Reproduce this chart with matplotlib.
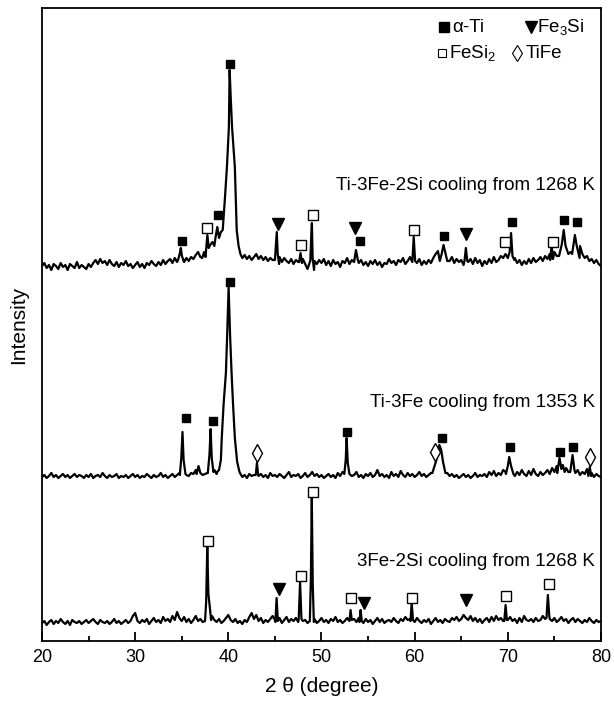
import numpy as np
import matplotlib
matplotlib.use("Agg")
import matplotlib.pyplot as plt

plt.rcParams['font.family'] = ['Liberation Sans', 'DejaVu Sans']
plt.rcParams['mathtext.fontset'] = 'custom'
plt.rcParams['mathtext.rm'] = 'Liberation Sans'
plt.rcParams['mathtext.default'] = 'regular'

# scan grid, 20-80 deg in 0.25 deg steps (241 points)
scan = 20 + 0.25 * np.arange(241)

# background counts (arb. units above each trace's baseline), one row per 5 deg
bg_a = [0, 3, -2, 1, -4, 2, 0, -3, 3, -1, 1, -4, 2, 0, -2, 4, -2, 1, -1, -3,
        2, -1, 3, 6, 2, 7, 3, 5, 1, 6, 2, 0, 4, -1, 3, 1, 5, 0, 2, -2,
        1, 4, -1, 2, -2, 3, 1, 5, 2, 0, 4, 1, 6, 2, 5, 7, 3, 8, 4, 9,
        6, 4, 8, 5, 9, 7, 11, 14, 9, 16, 12, 20, 18, 24, 22, 30, 28, 35, 40, 60,
        80, 50, 30, 14, 10, 12, 8, 11, 7, 10, 6, 9, 12, 7, 10, 6, 9, 5, 8, 6,
        6, 8, 9, 4, 8, 5, 3, 7, 2, 6, 4, 9, 7, 2, -3, 4, 1, 5, 2, 6,
        3, 7, 1, 5, 0, 6, 2, 4, -1, 5, 3, 8, 2, 6, 5, 5, 3, 6, 1, 4,
        0, 5, 2, 6, 1, 4, -1, 3, 2, 7, 3, 5, 1, 6, 4, 8, 2, 5, 9, 6,
        5, 3, 7, 1, 5, 2, 6, 3, 8, 12, 15, 8, 4, 7, 2, 5, 9, 3, 7, 4,
        6, 1, 5, 4, 7, 2, 8, 3, 6, 0, 5, 2, 7, 3, 9, 4, 6, 10, 8, 12,
        14, 9, 5, 8, 3, 6, 1, 5, 2, 7, 3, 8, 4, 6, 9, 5, 10, 7, 12, 9,
        14, 10, 16, 12, 20, 22, 24, 14, 12, 18, 20, 20, 12, 8, 10, 5, 7, 3, 6, 2,
        0]
bg_b = [1, 3, 0, 2, 5, 1, 3, 0, 2, 4, 1, 3, 0, 2, 4, 1, 3, 2, 0, 3,
        1, 4, 0, 2, 3, 1, 5, 2, 0, 3, 1, 2, 4, 0, 2, 1, 3, 0, 2, 4,
        1, 3, 0, 2, 1, 4, 2, 0, 3, 1, 2, 5, 1, 3, 0, 2, 4, 1, 3, 5,
        6, 8, 3, 2, 5, 4, 8, 12, 6, 3, 4, 5, 9, 7, 8, 4, 3, 6, 9, 12,
        10, 8, 6, 4, 2, 5, 1, 3, 0, 4, 2, 3, 4, 2, 4, 1, 3, 0, 5, 2,
        3, 1, 4, 2, 0, 3, 6, 1, 3, 2, 4, 0, 2, 5, 1, 3, 6, 2, 4, 1,
        3, 0, 2, 4, 1, 3, 0, 5, 2, 6, 5, 8, 4, 2, 3, 6, 1, 3, 0, 4,
        2, 5, 1, 3, 8, 2, 4, 1, 3, 0, 6, 2, 4, 1, 7, 3, 1, 5, 2, 4,
        1, 3, 6, 2, 4, 1, 3, 5, 8, 7, 9, 6, 6, 3, 5, 2, 4, 1, 3, 0,
        2, 4, 1, 3, 0, 2, 5, 1, 3, 2, 4, 1, 6, 3, 7, 2, 5, 3, 8, 6,
        7, 7, 4, 2, 6, 3, 8, 4, 2, 7, 3, 9, 4, 2, 6, 3, 5, 8, 4, 10,
        6, 12, 9, 8, 5, 10, 6, 9, 10, 5, 8, 3, 6, 4, 9, 3, 5, 1, 4, 2,
        1]
bg_c = [1, 3, -1, 2, 4, 0, 3, 1, 5, 2, 0, 3, -1, 4, 2, 1, 3, 0, 2, 4,
        1, 3, 5, 2, 0, 4, 2, 1, 3, 0, 2, 5, 1, 3, 0, 2, 4, 1, 3, 8,
        11, 3, 1, 4, 2, 5, 0, 3, 6, 2, 4, 1, 7, 3, 5, 2, 8, 4, 12, 6,
        3, 7, 2, 5, 1, 4, 8, 3, 5, 2, 4, 6, 5, 8, 4, 2, 5, 1, 3, 6,
        9, 4, 2, 5, 1, 3, 0, 4, 2, 7, 11, 5, 9, 3, 6, 1, 4, 2, 5, 8,
        4, 3, 6, 1, 4, 7, 2, 5, 3, 6, 2, 5, 3, 4, 1, 6, 2, 5, 1, 3,
        6, 2, 4, 1, 5, 3, 7, 2, 4, 1, 3, 6, 5, 3, 5, 2, 6, 4, 1, 5,
        2, 4, 0, 3, 6, 2, 5, 1, 3, 4, 2, 6, 3, 1, 5, 3, 7, 4, 5, 2,
        2, 6, 3, 1, 4, 2, 5, 0, 3, 6, 2, 4, 1, 5, 3, 2, 6, 4, 7, 3,
        5, 9, 6, 4, 8, 3, 6, 2, 5, 1, 4, 6, 2, 7, 3, 8, 4, 6, 3, 2,
        4, 7, 3, 5, 1, 6, 2, 8, 4, 3, 5, 2, 6, 3, 4, 8, 5, 7, 5, 3,
        6, 2, 4, 7, 3, 5, 1, 4, 6, 2, 5, 3, 1, 4, 2, 6, 3, 1, 4, 2,
        3]

# diffraction peaks, (2theta, counts)
pk_a = [
    [(34.6, 6), (34.78, 12), (34.9, 18), (35.02, 10), (35.2, 5)],
    [(37.2, 8), (37.4, 14), (37.55, 9), (37.75, 31), (37.9, 18), (38.05, 21),
     (38.3, 24), (38.5, 20), (38.65, 30), (38.82, 39), (39.0, 28), (39.2, 34),
     (39.4, 36), (39.65, 70), (39.85, 99), (40.06, 139), (40.14, 196),
     (40.25, 170), (40.4, 139), (40.7, 99), (40.9, 36), (41.1, 20), (41.3, 12)],
    [(45.0, 6), (45.1, 20), (45.2, 34), (45.3, 12), (45.45, 2)],
    [(47.6, 4), (47.75, 13), (47.9, 3)],
    [(48.8, 5), (48.9, 30), (48.97, 43), (49.05, 8), (49.2, -4)],
    [(53.5, 4), (53.7, 16), (53.9, 6)],
    [(59.75, 4), (59.9, 29), (60.05, 5)],
    [(62.7, 5), (62.9, 12), (63.1, 21), (63.3, 13), (63.5, 5)],
    [(65.35, 5), (65.5, 18), (65.65, 5)],
    [(70.0, 8), (70.2, 14), (70.35, 33), (70.5, 10), (70.7, 6)],
    [(74.55, 6), (74.7, 21), (74.85, 7)],
    [(75.5, 10), (75.8, 22), (76.0, 36), (76.2, 20), (76.5, 12)],
    [(76.9, 12), (77.2, 31), (77.4, 20), (77.7, 8)],
]
pk_b = [
    [(34.8, 3), (34.95, 20), (35.08, 46), (35.2, 18), (35.4, 4)],
    [(36.6, 4), (36.8, 12), (37.0, 5)],
    [(37.8, 5), (37.98, 24), (38.1, 49), (38.22, 20), (38.4, 6)],
    [(38.8, 6), (39.0, 8), (39.2, 18), (39.3, 41), (39.5, 75), (39.74, 105),
     (39.9, 150), (40.03, 191), (40.2, 140), (40.35, 105), (40.5, 75),
     (40.7, 40), (40.95, 16), (41.2, 6)],
    [(42.95, 3), (43.07, 15), (43.2, 3)],
    [(52.45, 4), (52.6, 18), (52.7, 40), (52.82, 15), (53.0, 4)],
    [(61.9, 5), (62.2, 14), (62.45, 22), (62.65, 33), (62.85, 28), (63.05, 16), (63.3, 5)],
    [(69.8, 4), (70.0, 12), (70.15, 21), (70.35, 12), (70.6, 4)],
    [(75.3, 5), (75.55, 20), (75.75, 9), (75.9, 13), (76.1, 6)],
    [(76.7, 6), (76.95, 23), (77.15, 8)],
    [(78.65, 2), (78.8, 11), (78.95, 2)],
]
pk_c = [
    [(37.5, 3), (37.62, 22), (37.74, 77), (37.86, 30), (38.0, 18), (38.15, 4)],
    [(45.05, 2), (45.18, 26), (45.32, 3)],
    [(47.55, 4), (47.7, 42), (47.85, 5)],
    [(48.75, 3), (48.86, 45), (48.96, 127), (49.06, 40), (49.18, 2)],
    [(53.0, 3), (53.12, 14), (53.25, 4)],
    [(54.08, 2), (54.2, 14), (54.32, 3)],
    [(59.55, 3), (59.68, 21), (59.82, 4)],
    [(69.62, 3), (69.76, 19), (69.9, 4)],
    [(74.15, 6), (74.3, 29), (74.45, 8)],
]

# vertical offsets of the stacked patterns
offsets = [375, 163, 17]
labels = ['Ti-3Fe-2Si cooling from 1268 K', 'Ti-3Fe cooling from 1353 K',
          '3Fe-2Si cooling from 1268 K']
label_y = [456, 239, 79]

# phase markers (2theta, height on the plot)
ti_x = [35.05, 38.85, 40.15, 54.1, 63.1, 70.4, 76.0, 77.4,
        35.5, 38.35, 40.15, 52.76, 62.95, 70.2, 75.6, 77.0]
ti_y = [400, 426, 577, 400, 405, 419, 421, 419,
        223, 220, 359, 209, 203, 194, 189, 194]
fe3si_x = [45.3, 53.55, 65.5, 45.45, 54.55, 65.55]
fe3si_y = [417, 413, 407, 52, 38, 41]
fesi2_x = [37.74, 47.76, 49.1, 59.9, 69.7, 74.85,
           37.85, 47.76, 49.04, 53.2, 59.67, 69.85, 74.43]
fesi2_y = [413, 396, 426, 411, 399, 399,
           100, 65, 149, 43, 43, 45, 57]
tife_x = [43.07, 62.17, 78.8]
tife_y = [188, 189, 184]


def build(bg, peaks):
    bg = np.array(bg, float)
    keep = np.ones(len(scan), bool)
    px, py = [], []
    for seg in peaks:
        keep &= ~((scan >= seg[0][0]) & (scan <= seg[-1][0]))
        px += [p[0] for p in seg]
        py += [p[1] for p in seg]
    x = np.concatenate([scan[keep], px])
    y = np.concatenate([bg[keep], py])
    o = np.argsort(x)
    return x[o], y[o]


fig = plt.figure(figsize=(6.14, 7.04), dpi=100)
ax = fig.add_axes([0.0684, 0.0895, 0.9104, 0.8991])

for bg, pk, off, lab, ly in zip([bg_a, bg_b, bg_c], [pk_a, pk_b, pk_c],
                                offsets, labels, label_y):
    x, y = build(bg, pk)
    ax.plot(x, y + off, color='black', lw=1.6)
    ax.text(79.33, ly, lab, ha='right', va='center', fontsize=13.5)

ax.plot(ti_x, ti_y, 's', color='black', ms=6.2, ls='none')
ax.plot(fesi2_x, fesi2_y, 's', mfc='white', mec='black', mew=1, ms=6.5, ls='none')
ax.plot(fe3si_x, fe3si_y, 'v', color='black', ms=9, ls='none')
ax.plot(tife_x, tife_y, 'd', mfc='white', mec='black', mew=1, ms=9, ls='none')

# phase key
ax.plot([63.13], [614], 's', color='black', ms=7)
ax.text(63.99, 614, 'α-Ti', ha='left', va='center', fontsize=13.5)
ax.plot([72.47], [614], 'v', color='black', ms=8.5)
ax.text(73.1, 614, 'Fe$_3$Si', ha='left', va='center', fontsize=13.5)
ax.plot([62.92], [588], 's', mfc='white', mec='black', mew=0.8, ms=5.5)
ax.text(63.67, 588, 'FeSi$_2$', ha='left', va='center', fontsize=13.5)
ax.plot([70.97], [588], 'd', mfc='white', mec='black', mew=0.8, ms=8)
ax.text(71.93, 588, 'TiFe', ha='left', va='center', fontsize=13.5)

ax.set_xlim(20, 80)
ax.set_ylim(0, 633)
ax.set_xticks(np.arange(20, 81, 10))
ax.set_xticks(np.arange(25, 80, 10), minor=True)
ax.set_yticks([])
ax.tick_params(axis='x', which='both', direction='in', top=False,
               labelsize=13, width=1.3, pad=6)
ax.tick_params(axis='x', which='major', length=6.5)
ax.tick_params(axis='x', which='minor', length=3.5)
for s in ax.spines.values():
    s.set_linewidth(1.3)

ax.set_xlabel('2 θ (degree)', fontsize=15, labelpad=8)
ax.set_ylabel('Intensity', fontsize=15, labelpad=10)

fig.savefig('out.png', dpi=100)
